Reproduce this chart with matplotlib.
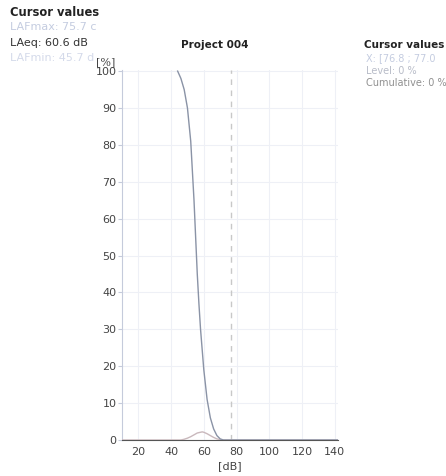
import matplotlib
matplotlib.use("Agg")
import matplotlib.pyplot as plt

# Data
cum_db = [44, 46, 48, 50, 52, 54, 56, 57, 58, 60, 62, 64, 66, 68, 70, 72, 142]
cum_pct = [100, 98, 95, 90, 81, 65, 45, 37, 30, 19, 11, 6, 3, 1.2, 0.3, 0, 0]
lvl_db = [10, 46, 48, 50, 52, 54, 56, 58, 59, 60, 62, 64, 66, 68, 70, 72, 142]
lvl_pct = [0, 0, 0.2, 0.5, 0.9, 1.4, 1.9, 2.1, 2.2, 2.1, 1.7, 1.2, 0.7, 0.3, 0.1, 0, 0]
cursor_db = 76.9
x_ticks = [20, 40, 60, 80, 100, 120, 140]
y_ticks = [0, 10, 20, 30, 40, 50, 60, 70, 80, 90, 100]

fig = plt.figure(figsize=(4.46, 4.76), dpi=100)
ax = fig.add_axes([122/446, 36/476, 216/446, 370/476])

ax.plot(lvl_db, lvl_pct, color="#c9b8bc", lw=1.0, zorder=3)
ax.plot(cum_db, cum_pct, color="#8a93a6", lw=1.0, zorder=4)
ax.axvline(cursor_db, color="#c8c8c8", lw=1.0, ls=(0, (4, 4)), zorder=2)

ax.set_xlim(10, 142)
ax.set_ylim(0, 100.3)
ax.set_xticks(x_ticks)
ax.set_yticks(y_ticks)
ax.grid(True, color="#eef0f6", lw=0.8, zorder=0)
for s in ["top", "right"]:
    ax.spines[s].set_visible(False)
ax.spines["left"].set_color("#c5cbdb")
ax.spines["bottom"].set_color("#555555")
ax.tick_params(axis="y", length=3, color="#c5cbdb", labelsize=8, labelcolor="#444444", pad=1)
ax.tick_params(axis="x", length=0, labelsize=8, labelcolor="#444444", pad=5)

fig.text(230/446, 1 - 466/476, "[dB]", fontsize=8, color="#444444", ha="center", va="center")
fig.text(106/446, 1 - 62/476, "[%]", fontsize=8, color="#444444", ha="center", va="center", family="DejaVu Serif")
fig.text(215/446, 1 - 45/476, "Project 004", fontsize=7.5, fontweight="bold", color="#222222", ha="center", va="center")

fig.text(10/446, 1 - 13/476, "Cursor values", fontsize=8.3, fontweight="bold", color="#222222", ha="left", va="center")
fig.text(10/446, 1 - 27/476, "LAFmax: 75.7 c", fontsize=8, color="#c4cce0", ha="left", va="center")
fig.text(10/446, 1 - 43/476, "LAeq: 60.6 dB", fontsize=8, color="#333333", ha="left", va="center")
fig.text(10/446, 1 - 58/476, "LAFmin: 45.7 d", fontsize=8, color="#d4daea", ha="left", va="center", zorder=0)

fig.text(364/446, 1 - 45/476, "Cursor values", fontsize=7.5, fontweight="bold", color="#222222", ha="left", va="center")
fig.text(366/446, 1 - 58/476, "X: [76.8 ; 77.0", fontsize=7, color="#c4cce0", ha="left", va="center")
fig.text(366/446, 1 - 71/476, "Level: 0 %", fontsize=7, color="#b8bcc8", ha="left", va="center")
fig.text(366/446, 1 - 83/476, "Cumulative: 0 %", fontsize=7, color="#909090", ha="left", va="center")

fig.savefig("out.png", dpi=100)
